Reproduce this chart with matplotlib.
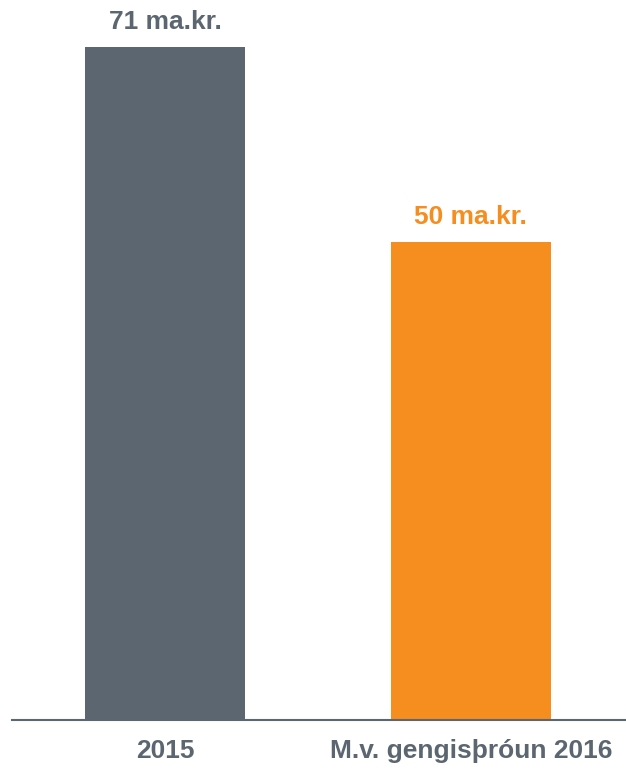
import matplotlib
matplotlib.use("Agg")
import matplotlib.pyplot as plt

categories = ["2015", "M.v. gengisþróun 2016"]
values = [71, 50.4]
labels = ["71 ma.kr.", "50 ma.kr."]
colors = ["#5c6670", "#f58d1f"]

plt.rcParams['font.family'] = ['Liberation Sans', 'DejaVu Sans']

fig = plt.figure(figsize=(6.26, 7.70), dpi=100)
ax = fig.add_axes([12 / 626, 50 / 770, 614 / 626, 720 / 770])

x = range(len(values))
ax.bar(x, values, width=0.523, color=colors)

for i, v in enumerate(values):
    ax.text(i, v + 1.9, labels[i], ha="center", va="baseline",
            fontsize=19, fontweight="bold", color=colors[i])

ax.set_xlim(-0.5, 1.507)
ax.set_ylim(0, 71 * 720 / 673)
ax.set_xticks(list(x))
ax.set_xticklabels(categories, fontsize=19, fontweight="bold", color="#5c6670")
ax.tick_params(axis="x", length=0, pad=14)
ax.set_yticks([])

for s in ["top", "right", "left"]:
    ax.spines[s].set_visible(False)
ax.spines["bottom"].set_color("#5c6670")
ax.spines["bottom"].set_linewidth(1.5)

fig.savefig("out.png", dpi=100)
